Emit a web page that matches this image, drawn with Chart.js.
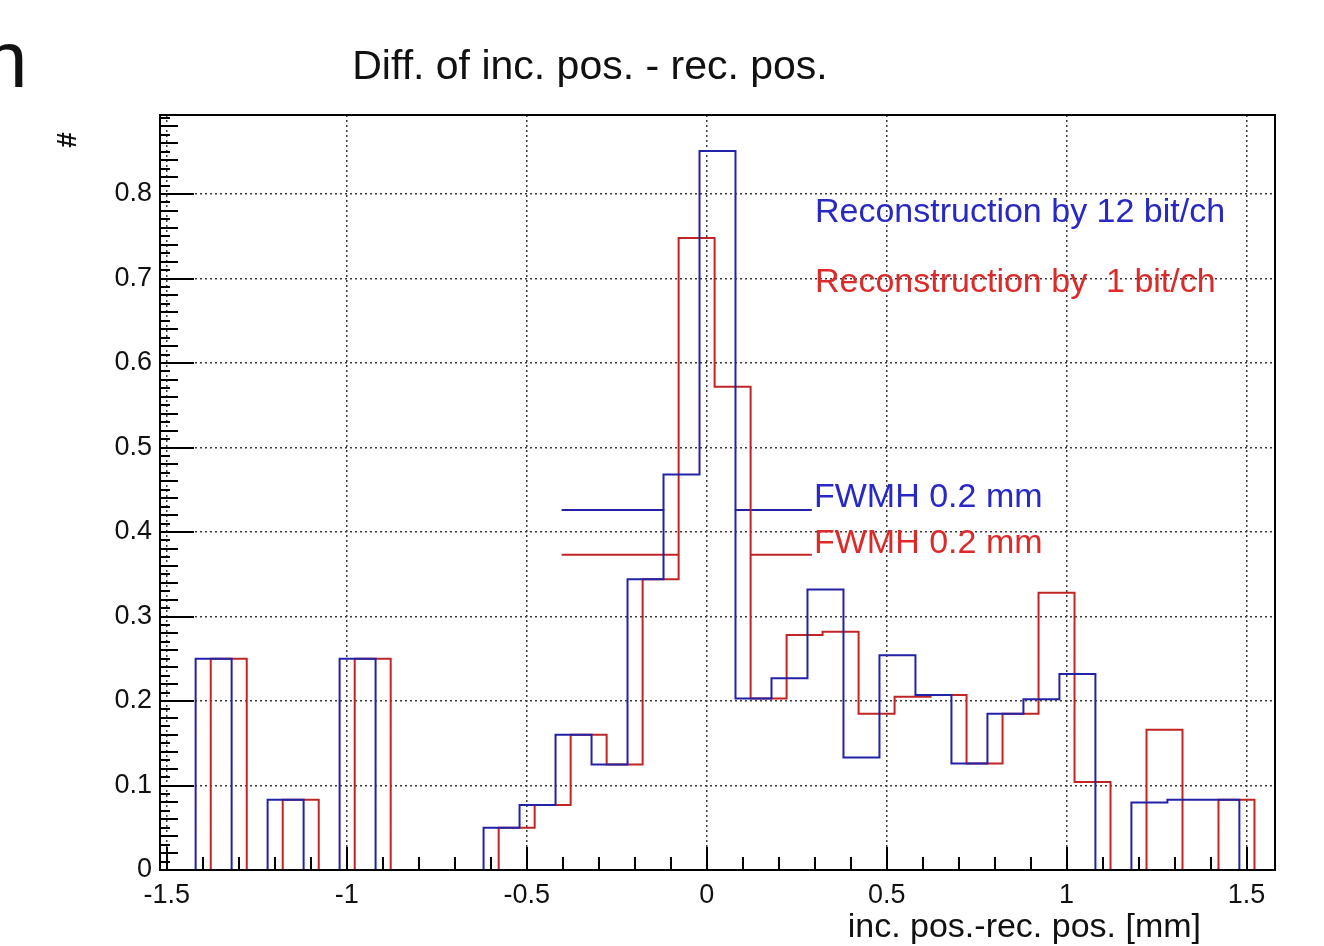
<!DOCTYPE html>
<html>
<head>
<meta charset="utf-8">
<script src="https://cdn.jsdelivr.net/npm/chart.js@4.4.1/dist/chart.umd.min.js"></script>
<style>
html,body{margin:0;padding:0;background:#fff;}
canvas{display:block;}
</style>
</head>
<body>
<canvas id="c" width="1324" height="946"></canvas>
<script>
// ---- data ----
const blueEdges = [-1.42, -1.32, -1.22, -1.12, -1.02, -0.92, -0.82, -0.72, -0.62, -0.52,
                   -0.42, -0.32, -0.22, -0.12, -0.02, 0.08, 0.18, 0.28, 0.38, 0.48,
                   0.58, 0.68, 0.78, 0.88, 0.98, 1.08, 1.18, 1.28, 1.38, 1.48];
const blueValues = [0.25, 0, 0.083, 0, 0.25, 0, 0, 0, 0.05, 0.077,
                    0.16, 0.125, 0.344, 0.468, 0.851, 0.203, 0.227, 0.332, 0.133, 0.254,
                    0.207, 0.126, 0.185, 0.202, 0.232, 0, 0.080, 0.083, 0.083];
const redEdges = [-1.378, -1.278, -1.178, -1.078, -0.978, -0.878, -0.778, -0.678, -0.578, -0.478,
                  -0.378, -0.278, -0.178, -0.078, 0.022, 0.122, 0.222, 0.322, 0.422, 0.522,
                  0.622, 0.722, 0.822, 0.922, 1.022, 1.122, 1.222, 1.322, 1.422, 1.522];
const redValues = [0.25, 0, 0.083, 0, 0.25, 0, 0, 0, 0.05, 0.077,
                   0.16, 0.125, 0.344, 0.748, 0.572, 0.203, 0.278, 0.282, 0.185, 0.205,
                   0.207, 0.126, 0.185, 0.328, 0.104, 0, 0.166, 0, 0.083];

// FWHM marker lines (half-maximum level and x extents)
const blueHalfMax = 0.426;
const blueFwhmLeft = [-0.403, -0.118];
const blueFwhmRight = [0.078, 0.292];
const redHalfMax = 0.373;
const redFwhmLeft = [-0.403, -0.078];
const redFwhmRight = [0.121, 0.292];

const xTickValues = [-1.5, -1, -0.5, 0, 0.5, 1, 1.5];
const xTickLabels = ['-1.5', '-1', '-0.5', '0', '0.5', '1', '1.5'];
const yTickValues = [0, 0.1, 0.2, 0.3, 0.4, 0.5, 0.6, 0.7, 0.8];
const yTickLabels = ['0', '0.1', '0.2', '0.3', '0.4', '0.5', '0.6', '0.7', '0.8'];

const titleText = 'Diff. of inc. pos. - rec. pos.';
const xTitle = 'inc. pos.-rec. pos. [mm]';
const yTitle = '#';
const legendBlue = 'Reconstruction by 12 bit/ch';
const legendRed = 'Reconstruction by  1 bit/ch';
const fwhmText = 'FWMH 0.2 mm';

// ---- styles ----
const BLUE_LINE = '#2222a8';
const RED_LINE = '#c02424';
const BLUE_TEXT = '#2828c4';
const RED_TEXT = '#dc2a2a';
const FONT = '"Liberation Sans", Arial, Helvetica, sans-serif';

function histPoints(edges, values) {
  const pts = [];
  let prev = 0;
  for (let i = 0; i < values.length; i++) {
    pts.push({x: edges[i], y: prev});
    pts.push({x: edges[i], y: values[i]});
    prev = values[i];
  }
  pts.push({x: edges[values.length], y: prev});
  pts.push({x: edges[values.length], y: 0});
  return pts;
}
function segment(xs, level) {
  return [{x: xs[0], y: level}, {x: xs[1], y: level}];
}

const lineDs = (data, color, width) => ({
  data, borderColor: color, borderWidth: width, pointRadius: 0, fill: false,
  tension: 0, stepped: false, spanGaps: false
});

const frameAndTicks = {
  id: 'frameAndTicks',
  afterDatasetsDraw(chart) {
    const {ctx, chartArea: {left, right, top, bottom}, scales: {x, y}} = chart;
    ctx.save();
    ctx.strokeStyle = '#000';
    ctx.lineWidth = 2;
    ctx.beginPath();
    for (let i = -15; i <= 15; i++) {
      const v = i / 10;
      if (v < x.min || v > x.max) continue;
      const px = Math.round(x.getPixelForValue(v));
      const len = (i % 5 === 0) ? 23 : 13;
      ctx.moveTo(px, bottom);
      ctx.lineTo(px, bottom - len);
    }
    for (let i = 0; i <= 89; i++) {
      const v = i / 100;
      if (v > y.max) continue;
      const py = Math.round(y.getPixelForValue(v));
      const len = (i % 10 === 0) ? 34 : (i % 2 === 0 ? 18 : 10);
      ctx.moveTo(left, py);
      ctx.lineTo(left + len, py);
    }
    ctx.stroke();
    ctx.strokeRect(left, top, right - left, bottom - top);
    ctx.restore();
  }
};

const texts = {
  id: 'texts',
  afterDraw(chart) {
    const {ctx} = chart;
    ctx.save();
    ctx.textBaseline = 'alphabetic';
    // cut-off letter from the slide
    ctx.fillStyle = '#111';
    ctx.font = '80px ' + FONT;
    ctx.textAlign = 'left';
    ctx.fillText('n', -17, 87);
    // title
    ctx.font = '41px ' + FONT;
    ctx.textAlign = 'center';
    ctx.fillText(titleText, 590, 79);
    // axis titles
    ctx.font = '34px ' + FONT;
    ctx.textAlign = 'right';
    ctx.fillText(xTitle, 1201, 937);
    ctx.save();
    ctx.translate(76, 140);
    ctx.rotate(-Math.PI / 2);
    ctx.font = 'bold 28px ' + FONT;
    ctx.textAlign = 'center';
    ctx.fillText(yTitle, 0, 0);
    ctx.restore();
    // legends
    ctx.textAlign = 'left';
    ctx.font = '34px ' + FONT;
    ctx.fillStyle = BLUE_TEXT;
    ctx.fillText(legendBlue, 815, 222);
    ctx.fillText(fwhmText, 814, 507);
    ctx.fillStyle = RED_TEXT;
    ctx.fillText(legendRed, 815, 292);
    ctx.fillText(fwhmText, 814, 553);
    ctx.restore();
  }
};

new Chart(document.getElementById('c'), {
  type: 'line',
  data: {
    datasets: [
      lineDs(histPoints(blueEdges, blueValues), BLUE_LINE, 2),
      lineDs(histPoints(redEdges, redValues), RED_LINE, 2),
      lineDs(segment(blueFwhmLeft, blueHalfMax), BLUE_LINE, 2),
      lineDs(segment(blueFwhmRight, blueHalfMax), BLUE_LINE, 2),
      lineDs(segment(redFwhmLeft, redHalfMax), RED_LINE, 2),
      lineDs(segment(redFwhmRight, redHalfMax), RED_LINE, 2)
    ]
  },
  options: {
    responsive: false,
    animation: false,
    events: [],
    layout: {padding: {left: 0, right: 49, top: 115, bottom: 0}},
    plugins: {legend: {display: false}, title: {display: false}, tooltip: {enabled: false}},
    scales: {
      x: {
        type: 'linear', min: -1.519, max: 1.579,
        afterBuildTicks: s => { s.ticks = xTickValues.map(v => ({value: v})); },
        afterFit: s => { s.height = 76; },
        ticks: {
          autoSkip: false, maxRotation: 0, padding: 9, color: '#111',
          font: {family: FONT, size: 27},
          callback: (v) => xTickLabels[xTickValues.indexOf(v)]
        },
        grid: {color: '#3a3a3a', lineWidth: 1.5, drawTicks: false},
        border: {display: false, dash: [2, 3]}
      },
      y: {
        type: 'linear', min: 0, max: 0.8935,
        afterBuildTicks: s => { s.ticks = yTickValues.map(v => ({value: v})); },
        afterFit: s => { s.width = 160; },
        ticks: {
          autoSkip: false, padding: 8, color: '#111',
          font: {family: FONT, size: 27},
          callback: (v) => yTickLabels[yTickValues.indexOf(v)]
        },
        grid: {color: '#3a3a3a', lineWidth: 1.5, drawTicks: false},
        border: {display: false, dash: [2, 3]}
      }
    }
  },
  plugins: [frameAndTicks, texts]
});
</script>
</body>
</html>
